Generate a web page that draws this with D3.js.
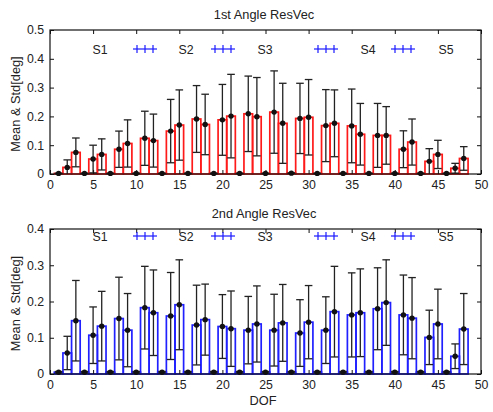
<!DOCTYPE html>
<html>
<head>
<meta charset="utf-8">
<script src="https://cdn.jsdelivr.net/npm/d3@7"></script>
<style>
  body { margin: 0; background: #fff; }
  text { font-family: "Liberation Sans", Arial, sans-serif; fill: #222; }
</style>
</head>
<body>
<svg id="chart" width="493" height="412"></svg>
<script>
// DOF 1..48
const dof = d3.range(1, 49)

const mean1 = [0.002, 0.023, 0.075, 0.002, 0.052, 0.068, 0.002, 0.086, 0.106, 0.002, 0.124, 0.116,
               0.002, 0.149, 0.170, 0.002, 0.191, 0.172, 0.002, 0.188, 0.201, 0.002, 0.209, 0.199,
               0.002, 0.215, 0.176, 0.003, 0.193, 0.197, 0.002, 0.168, 0.176, 0.002, 0.167, 0.138,
               0.002, 0.134, 0.134, 0.002, 0.086, 0.111, 0.002, 0.044, 0.068, 0.002, 0.020, 0.054]
const std1  = [0.001, 0.026, 0.050, 0.001, 0.048, 0.054, 0.001, 0.063, 0.082, 0.001, 0.094, 0.092,
               0.001, 0.110, 0.122, 0.001, 0.116, 0.105, 0.001, 0.123, 0.145, 0.001, 0.131, 0.136,
               0.001, 0.143, 0.139, 0.001, 0.122, 0.131, 0.001, 0.125, 0.116, 0.001, 0.128, 0.107,
               0.001, 0.111, 0.100, 0.001, 0.064, 0.080, 0.001, 0.044, 0.049, 0.001, 0.017, 0.041]

const mean2 = [0.005, 0.058, 0.147, 0.005, 0.107, 0.132, 0.005, 0.153, 0.121, 0.005, 0.183, 0.169,
               0.005, 0.160, 0.191, 0.005, 0.135, 0.150, 0.005, 0.131, 0.125, 0.005, 0.121, 0.138,
               0.005, 0.121, 0.141, 0.005, 0.113, 0.143, 0.005, 0.121, 0.172, 0.005, 0.163, 0.169,
               0.005, 0.180, 0.197, 0.005, 0.163, 0.154, 0.005, 0.101, 0.138, 0.005, 0.049, 0.124]
const std2  = [0.002, 0.046, 0.111, 0.002, 0.078, 0.096, 0.002, 0.114, 0.101, 0.002, 0.114, 0.118,
               0.002, 0.120, 0.124, 0.002, 0.110, 0.098, 0.002, 0.088, 0.104, 0.002, 0.093, 0.105,
               0.002, 0.099, 0.106, 0.002, 0.092, 0.101, 0.002, 0.092, 0.125, 0.002, 0.116, 0.121,
               0.002, 0.113, 0.118, 0.002, 0.110, 0.112, 0.002, 0.075, 0.096, 0.002, 0.034, 0.098]

const xTicks = d3.range(0, 51, 5)
const legendNames = ["S1", "S2", "S3", "S4", "S5"]

const svg = d3.select("#chart")
const left = 50, right = 481

function panel(opt) {
  const x = d3.scaleLinear().domain([0, 50]).range([left, right])
  const y = d3.scaleLinear().domain([0, opt.ymax]).range([opt.bottom, opt.top])
  const g = svg.append("g")
  const unit = x(1) - x(0)

  // title
  g.append("text")
    .attr("x", 264).attr("y", opt.top - 11)
    .attr("text-anchor", "middle")
    .style("font-size", "12.8px")
    .text(opt.title)

  // y label
  g.append("text")
    .attr("transform", `translate(20,${(opt.top + opt.bottom) / 2 + 2}) rotate(-90)`)
    .attr("text-anchor", "middle")
    .style("font-size", "12.8px")
    .text("Mean & Std[deg]")

  // bars
  const data = dof.map((d, i) => ({ d, m: opt.mean[i], s: opt.std[i] }))
  g.selectAll("rect.bar").data(data).enter().append("rect")
    .attr("class", "bar")
    .attr("x", d => x(d.d - 0.5))
    .attr("width", unit)
    .attr("y", d => y(d.m))
    .attr("height", d => y(0) - y(d.m))
    .attr("fill", "none")
    .attr("stroke", opt.color)
    .attr("stroke-width", 1.7)

  // error bars
  const cap = 3.8
  const lo = d => y(Math.max(0, d.m - d.s)), hi = d => y(d.m + d.s)
  const eb = g.selectAll("g.eb").data(data).enter().append("g").attr("class", "eb")
    .attr("stroke", "#222").attr("stroke-width", 1.3)
  eb.append("line").attr("x1", d => x(d.d)).attr("x2", d => x(d.d)).attr("y1", lo).attr("y2", hi)
  eb.append("line").attr("x1", d => x(d.d) - cap).attr("x2", d => x(d.d) + cap).attr("y1", hi).attr("y2", hi)
  eb.filter(d => d.m - d.s > 0).append("line")
    .attr("x1", d => x(d.d) - cap).attr("x2", d => x(d.d) + cap).attr("y1", lo).attr("y2", lo)
  eb.append("circle").attr("cx", d => x(d.d)).attr("cy", d => y(d.m)).attr("r", 2.7)
    .attr("fill", "#111").attr("stroke", "none")

  // frame and mirrored inward ticks
  g.append("rect").attr("x", left).attr("y", opt.top)
    .attr("width", right - left).attr("height", opt.bottom - opt.top)
    .attr("fill", "none").attr("stroke", "#111").attr("stroke-width", 1.2)

  const fmt = d => d === 0 ? "0" : d3.format(".1f")(d)
  const yTicks = d3.range(0, opt.ymax + 1e-9, 0.1)

  g.append("g").attr("transform", `translate(0,${opt.bottom})`)
    .call(d3.axisBottom(x).tickValues(xTicks).tickSize(-4).tickPadding(6))
  g.append("g").attr("transform", `translate(${left},0)`)
    .call(d3.axisLeft(y).tickValues(yTicks).tickFormat(fmt).tickSize(-4).tickPadding(6))
  g.append("g").attr("transform", `translate(0,${opt.top})`)
    .call(d3.axisTop(x).tickValues(xTicks).tickSize(-4).tickFormat(""))
  g.append("g").attr("transform", `translate(${right},0)`)
    .call(d3.axisRight(y).tickValues(yTicks).tickSize(-4).tickFormat(""))
  g.selectAll(".domain").remove()
  g.selectAll(".tick line").attr("stroke", "#111")
  g.selectAll(".tick text").style("font-size", "12.3px").attr("fill", "#222")
    .style("font-family", "'Liberation Sans', Arial, sans-serif")

  // legend
  const lx = [100, 186, 265, 368, 446]
  const px = [145, 223, 326, 403]
  const ly = opt.top + opt.legendDy
  legendNames.forEach((n, i) => {
    g.append("text").attr("x", lx[i]).attr("y", ly + 4.5)
      .attr("text-anchor", "middle").style("font-size", "12.3px").text(n)
  })
  px.forEach(cx => {
    const lg = g.append("g").attr("stroke", "#1a1aff").attr("stroke-width", 1.2)
    lg.append("line").attr("x1", cx - 12).attr("x2", cx + 12).attr("y1", ly).attr("y2", ly)
    ;[-8, 0, 8].forEach(o => lg.append("line")
      .attr("x1", cx + o).attr("x2", cx + o).attr("y1", ly - 4).attr("y2", ly + 4))
  })
}

panel({ title: "1st Angle ResVec", top: 30, bottom: 174, ymax: 0.5,
        mean: mean1, std: std1, color: "#ff1a1a", legendDy: 19 })
panel({ title: "2nd Angle ResVec", top: 229, bottom: 374, ymax: 0.4,
        mean: mean2, std: std2, color: "#2020ff", legendDy: 7 })

svg.append("text").attr("x", 263).attr("y", 405)
  .attr("text-anchor", "middle").style("font-size", "12.8px").text("DOF")
</script>
</body>
</html>
